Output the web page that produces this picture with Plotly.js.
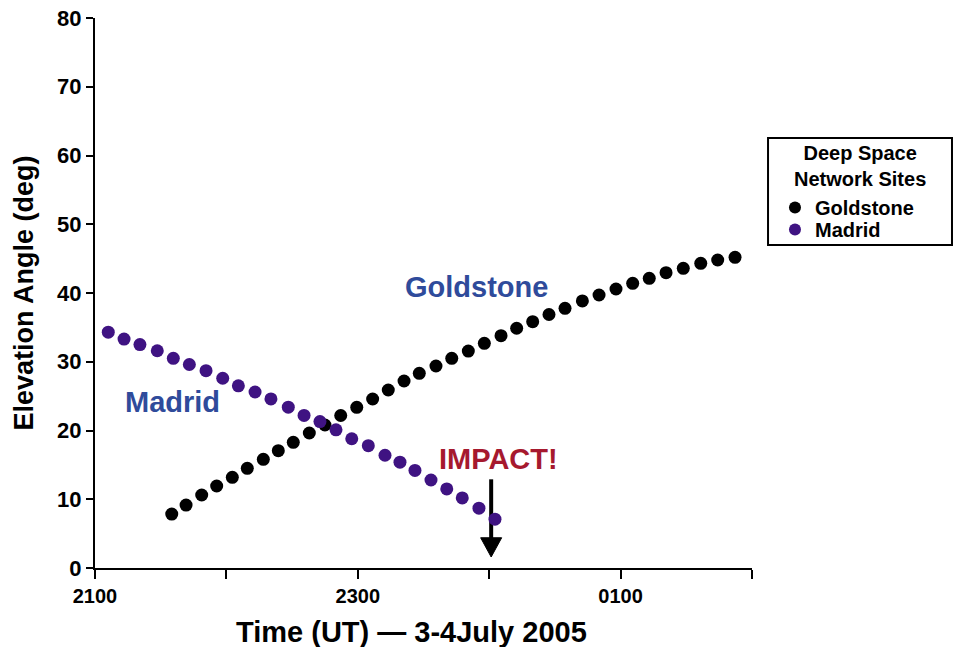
<!DOCTYPE html>
<html>
<head>
<meta charset="utf-8">
<script src="https://cdn.plot.ly/plotly-3.0.1.min.js"></script>
<style>html,body{margin:0;padding:0;background:#fff;}#chart{width:956px;height:647px;}</style>
</head>
<body>
<div id="chart"></div>
<script>
// Time in hours UT (21 = 2100 on 3 July, 24 = 0000 on 4 July)
var goldstoneTime = [21.584, 21.693, 21.812, 21.926, 22.045, 22.159, 22.281, 22.395, 22.509, 22.631,
  22.750, 22.870, 22.992, 23.113, 23.232, 23.352, 23.468, 23.595, 23.715, 23.841,
  23.963, 24.090, 24.209, 24.331, 24.455, 24.577, 24.709, 24.836, 24.965, 25.092,
  25.218, 25.346, 25.477, 25.610, 25.739, 25.871];
var goldstoneElev = [7.85, 9.16, 10.62, 11.93, 13.19, 14.50, 15.81, 17.06, 18.28, 19.64,
  20.80, 22.18, 23.37, 24.58, 25.89, 27.20, 28.32, 29.38, 30.50, 31.56,
  32.68, 33.79, 34.87, 35.83, 36.87, 37.77, 38.84, 39.71, 40.58, 41.41,
  42.14, 42.95, 43.59, 44.32, 44.80, 45.19];
var madridTime = [21.101, 21.221, 21.342, 21.474, 21.596, 21.718, 21.845, 21.972, 22.091, 22.218,
  22.339, 22.471, 22.591, 22.712, 22.834, 22.954, 23.080, 23.207, 23.321, 23.435,
  23.557, 23.677, 23.795, 23.922, 24.044];
var madridElev = [34.3, 33.3, 32.5, 31.6, 30.5, 29.6, 28.7, 27.6, 26.5, 25.6,
  24.6, 23.4, 22.2, 21.3, 20.1, 18.8, 17.8, 16.4, 15.4, 14.2,
  12.8, 11.5, 10.2, 8.7, 7.1];
var xTickVals = [21, 22, 23, 24, 25, 26];
var xTickText = ['2100', '', '2300', '', '0100', ''];
var yTickVals = [0, 10, 20, 30, 40, 50, 60, 70, 80];
var impactTime = 24.015;

var FONT = 'Liberation Sans, Arial, Helvetica, sans-serif';
var BLUE = '#2F4B9B';
var RED = '#A6192E';

var traces = [
  {x: goldstoneTime, y: goldstoneElev, name: 'Goldstone', type: 'scatter', mode: 'markers',
   marker: {size: 13, color: '#000000'}, cliponaxis: false, legend: 'legend'},
  {x: madridTime, y: madridElev, name: 'Madrid', type: 'scatter', mode: 'markers',
   marker: {size: 13, color: '#3F1382'}, cliponaxis: false, legend: 'legend2'}
];

var legendFont = {family: FONT, size: 20, color: '#000', weight: 'bold'};

var layout = {
  width: 956, height: 647,
  margin: {l: 95, r: 204, t: 18, b: 79},
  paper_bgcolor: '#ffffff', plot_bgcolor: '#ffffff',
  font: {family: FONT, color: '#000', size: 20, weight: 'bold'},
  showlegend: true,
  legend: {x: 1.035, y: 0.6909, xanchor: 'left', yanchor: 'top', font: legendFont,
    bgcolor: 'rgba(0,0,0,0)', borderwidth: 0, itemsizing: 'constant'},
  legend2: {x: 1.035, y: 0.6509, xanchor: 'left', yanchor: 'top', font: legendFont,
    bgcolor: 'rgba(0,0,0,0)', borderwidth: 0, itemsizing: 'constant'},
  xaxis: {
    range: [21, 26], tickmode: 'array', tickvals: xTickVals, ticktext: xTickText,
    showline: true, linecolor: '#000', linewidth: 2, mirror: false,
    ticks: 'outside', ticklen: 9, tickwidth: 2, tickcolor: '#000',
    showgrid: false, zeroline: false, ticklabelstandoff: 0,
    tickfont: {family: FONT, size: 20, color: '#000', weight: 'bold'}
  },
  yaxis: {
    range: [0, 80], tickmode: 'array', tickvals: yTickVals,
    showline: true, linecolor: '#000', linewidth: 2,
    ticks: 'outside', ticklen: 7, tickwidth: 2, tickcolor: '#000',
    showgrid: false, zeroline: false, ticklabelstandoff: 0,
    tickfont: {family: FONT, size: 22, color: '#000', weight: 'bold'},
    title: {text: 'Elevation Angle (deg)', standoff: 16,
      font: {family: FONT, size: 27, color: '#000', weight: 'bold'}}
  },
  shapes: [
    {type: 'line', xref: 'x', yref: 'y', x0: impactTime, x1: impactTime, y0: 12.9, y1: 4.2,
     line: {color: '#000', width: 4}, layer: 'below'},
    {type: 'path', xref: 'x', yref: 'y', layer: 'below',
     path: 'M ' + (impactTime - 0.08) + ',4.4 L ' + (impactTime + 0.08) + ',4.4 L ' + impactTime + ',1.6 Z',
     fillcolor: '#000', line: {color: '#000', width: 1}},
    {type: 'rect', xref: 'paper', yref: 'paper', x0: 1.0244, x1: 1.3044, y0: 0.5873, y1: 0.7818,
     line: {color: '#000', width: 2}, fillcolor: 'rgba(0,0,0,0)'}
  ],
  annotations: [
    {text: 'Goldstone', x: 23.907, y: 40.87, xref: 'x', yref: 'y', showarrow: false,
     font: {family: FONT, size: 29, color: BLUE, weight: 'bold'}},
    {text: 'Madrid', x: 21.586, y: 24.15, xref: 'x', yref: 'y', showarrow: false,
     font: {family: FONT, size: 29, color: BLUE, weight: 'bold'}},
    {text: 'IMPACT!', x: 24.067, y: 15.85, xref: 'x', yref: 'y', showarrow: false,
     font: {family: FONT, size: 29, color: RED, weight: 'bold'}},
    {text: 'Deep Space<br>Network Sites', xref: 'paper', yref: 'paper', x: 1.1644, y: 0.7309,
     xanchor: 'center', yanchor: 'middle', showarrow: false, align: 'center',
     font: {family: FONT, size: 20, color: '#000', weight: 'bold'}},
    {text: 'Time (UT) \u2014 3-4July 2005', xref: 'paper', yref: 'paper', x: 0.481, y: -0.1164,
     xanchor: 'center', yanchor: 'middle', showarrow: false,
     font: {family: FONT, size: 29, color: '#000', weight: 'bold'}}
  ]
};

Plotly.newPlot('chart', traces, layout, {displayModeBar: false, staticPlot: true});
</script>
</body>
</html>
